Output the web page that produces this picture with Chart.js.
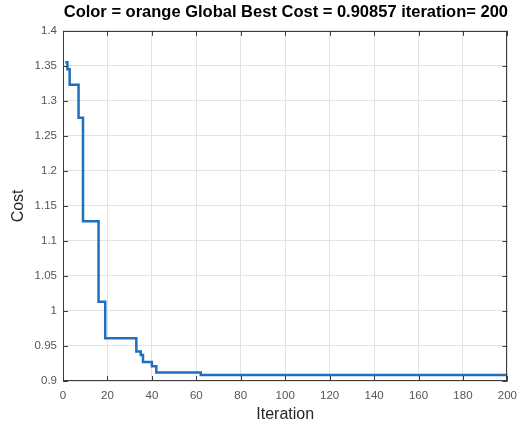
<!DOCTYPE html>
<html>
<head>
<meta charset="utf-8">
<script src="https://cdn.jsdelivr.net/npm/chart.js@4.4.1/dist/chart.umd.min.js"></script>
<style>
html, body { margin: 0; padding: 0; background: #fff; }
</style>
</head>
<body>
<canvas id="costChart" width="525" height="429"></canvas>
<script>
// best cost found so far, listed only at the iterations where it changes
const iterations = [1, 2, 3, 7, 9, 16, 19, 33, 35, 36, 40, 42, 62, 200];
const bestCost = [1.355, 1.345, 1.323, 1.276, 1.128, 1.013, 0.961, 0.942, 0.937, 0.927, 0.921, 0.912, 0.9086, 0.90857];

const xTicks = [0, 20, 40, 60, 80, 100, 120, 140, 160, 180, 200];
const yTicks = [0.9, 0.95, 1, 1.05, 1.1, 1.15, 1.2, 1.25, 1.3, 1.35, 1.4];

const titleText = 'Color = orange Global Best Cost = 0.90857 iteration= 200';

// box around the plot with small inward ticks on all four sides
const boxTicks = {
  id: 'boxTicks',
  afterDraw(chart) {
    const ctx = chart.ctx;
    const a = chart.chartArea;
    const sx = chart.scales.x, sy = chart.scales.y;
    ctx.save();
    ctx.strokeStyle = '#3c3c3c';
    ctx.lineWidth = 1;
    ctx.beginPath();
    xTicks.forEach(function(v) {
      const px = Math.round(sx.getPixelForValue(v)) + 0.5;
      ctx.moveTo(px, a.bottom); ctx.lineTo(px, a.bottom - 5);
      ctx.moveTo(px, a.top); ctx.lineTo(px, a.top + 5);
    });
    yTicks.forEach(function(v) {
      const py = Math.round(sy.getPixelForValue(v)) + 0.5;
      ctx.moveTo(a.left, py); ctx.lineTo(a.left + 5, py);
      ctx.moveTo(a.right, py); ctx.lineTo(a.right - 5, py);
    });
    ctx.stroke();
    ctx.strokeRect(Math.round(a.left) + 0.5, Math.round(a.top) + 0.5,
      Math.round(a.right - a.left) - 1, Math.round(a.bottom - a.top) - 1);
    ctx.restore();
  }
};

const points = iterations.map(function(it, i) { return { x: it, y: bestCost[i] }; });

const ctx = document.getElementById('costChart').getContext('2d');
const chart = new Chart(ctx, {
  type: 'line',
  data: {
    datasets: [{
      data: points,
      borderColor: '#1f6fbf',
      borderWidth: 2.5,
      pointRadius: 0,
      stepped: 'before',
      fill: false
    }]
  },
  options: {
    responsive: false,
    animation: false,
    layout: { padding: { left: 0, right: 17, top: 0, bottom: 0 } },
    plugins: {
      legend: { display: false },
      tooltip: { enabled: false },
      title: {
        display: true,
        text: titleText,
        align: 'end',
        color: '#000',
        font: { family: 'Arial, "Liberation Sans"', size: 16.5, weight: 'bold' },
        padding: { top: 3, bottom: 8 }
      }
    },
    scales: {
      x: {
        type: 'linear',
        min: 0,
        max: 200,
        afterBuildTicks: function(scale) { scale.ticks = xTicks.map(function(v) { return { value: v }; }); },
        afterFit: function(scale) { scale.height = 48; },
        grid: { color: '#e3e3e3', drawTicks: false },
        border: { display: false },
        ticks: {
          color: '#555',
          padding: 8,
          maxRotation: 0,
          font: { family: 'Arial, "Liberation Sans"', size: 11.5 }
        },
        title: {
          display: true,
          text: 'Iteration',
          color: '#262626',
          font: { family: 'Arial, "Liberation Sans"', size: 16 },
          padding: { top: 2, bottom: 5 }
        }
      },
      y: {
        min: 0.9,
        max: 1.4,
        afterBuildTicks: function(scale) { scale.ticks = yTicks.map(function(v) { return { value: v }; }); },
        afterFit: function(scale) { scale.width = 63; },
        grid: { color: '#e3e3e3', drawTicks: false },
        border: { display: false },
        ticks: {
          color: '#555',
          padding: 6,
          font: { family: 'Arial, "Liberation Sans"', size: 11.5 },
          callback: function(v) { return String(Number(v.toFixed(2))); }
        },
        title: {
          display: true,
          text: 'Cost',
          color: '#262626',
          font: { family: 'Arial, "Liberation Sans"', size: 16 },
          padding: { top: 9, bottom: 0 }
        }
      }
    }
  },
  plugins: [boxTicks]
});
</script>
</body>
</html>
